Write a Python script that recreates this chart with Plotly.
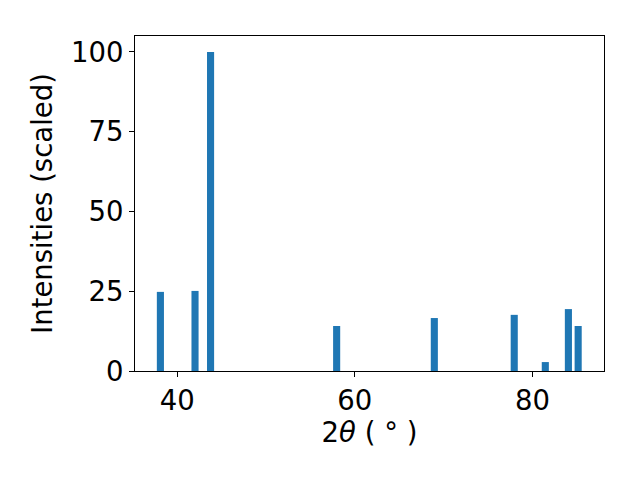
import plotly.graph_objects as go

two_theta = [38.1, 42.0, 43.75, 57.95, 68.95, 77.95, 81.45, 84.05, 85.15]
intensity = [24.8, 25.1, 100.0, 14.1, 16.6, 17.6, 2.8, 19.4, 14.1]
x_ticks = [40, 60, 80]
y_ticks = [0, 25, 50, 75, 100]

fig = go.Figure(go.Bar(x=two_theta, y=intensity, width=0.8,
                       marker=dict(color="#1f77b4", line=dict(width=0))))

font = dict(family="DejaVu Sans", size=27.5, color="black")
fig.update_layout(
    width=632, height=472,
    margin=dict(l=127, r=36, t=28, b=109),
    plot_bgcolor="white", paper_bgcolor="white",
    font=font, showlegend=False,
)
fig.update_xaxes(range=[35.24, 88.06], tickvals=x_ticks, ticks="outside", ticklen=5,
                 tickcolor="black", showline=True, linecolor="black", linewidth=1,
                 mirror=True, showgrid=False, zeroline=False,
                 title=dict(text="2<i>θ</i> ( ° )", font=font, standoff=3))
fig.update_yaxes(range=[0, 105], tickvals=y_ticks, ticks="outside", ticklen=5,
                 tickcolor="black", showline=True, linecolor="black", linewidth=1,
                 mirror=True, showgrid=False, zeroline=False,
                 title=dict(text="Intensities (scaled)", font=font, standoff=10))
fig.write_html("out.html")
